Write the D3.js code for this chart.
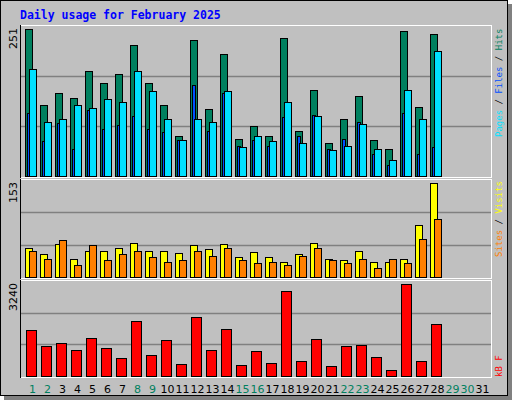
<!DOCTYPE html>
<html><head><meta charset="utf-8">
<script src="https://cdn.jsdelivr.net/npm/d3@7"></script>
<style>body{margin:0;background:#fff}</style>
</head><body>
<script>
// values
var days = d3.range(1, 32);
var weekend = [1, 2, 8, 9, 15, 16, 22, 23, 29, 30];
var hits  = [251,122,141,133,180,158,174,223,158,121,68,233,114,209,64,85,68,235,76,146,56,98,136,61,46,247,117,242];
var files = [107,59,90,46,113,80,87,102,80,75,61,155,76,141,51,61,51,100,68,104,46,63,92,37,18,107,37,49];
var pages = [182,92,98,121,116,131,127,180,145,98,61,98,92,145,49,69,59,127,56,102,44,51,88,46,28,146,98,213];
var visits = [47,37,53,30,42,43,48,55,43,42,39,52,45,53,32,40,32,25,37,55,29,27,43,25,24,29,85,153];
var sites  = [42,29,60,20,52,27,37,42,32,25,27,42,34,48,27,22,24,20,34,48,27,22,29,15,29,22,62,95];
var kb = [1609,1041,1147,899,1325,970,651,1928,757,1254,438,2070,899,1644,402,864,473,2993,544,1289,367,1041,1077,686,225,3240,544,1822];

var W = 512, H = 400;
var svg = d3.select("body").append("svg").attr("width", W).attr("height", H)
  .style("font-family", "DejaVu Sans");

// frame with shadow
svg.append("rect").attr("x", 4).attr("y", 4).attr("width", 508).attr("height", 396).attr("fill", "#808080");
svg.append("rect").attr("x", 0.5).attr("y", 0.5).attr("width", 507).attr("height", 395)
  .attr("fill", "#c0c0c0").attr("stroke", "#000");

svg.append("text").attr("x", 20).attr("y", 19).text("Daily usage for February 2025")
  .attr("fill", "#0000ff").attr("font-family", "DejaVu Sans Mono").attr("font-weight", "bold").attr("font-size", 11.5);

var x = d3.scaleBand().domain(days).range([20, 485]);

function panel(y0, y1, max) {
  svg.append("rect").attr("x", 20.5).attr("y", y0 + 0.5).attr("width", 471).attr("height", y1 - y0)
    .attr("fill", "#c0c0c0").attr("stroke", "#fff");
  svg.append("line").attr("x1", 20.5).attr("x2", 20.5).attr("y1", y0).attr("y2", y1 + 1).attr("stroke", "#000");
  var y = d3.scaleLinear().domain([0, max]).range([y1 - 1, y0 + 4]);
  [1 / 3, 2 / 3].forEach(function (f) {
    var gy = Math.round(y1 - 1 - f * (y1 - 1 - (y0 + 1))) + 0.5;
    svg.append("line").attr("x1", 21).attr("x2", 491).attr("y1", gy).attr("y2", gy)
      .attr("stroke", "#808080").attr("stroke-width", 1.5);
  });
  svg.append("text").attr("transform", "translate(17," + (y0 + 3) + ") rotate(-90)")
    .attr("text-anchor", "end").attr("font-size", 11).text(max);
  return y;
}

function bars(data, y, dx, w, color) {
  svg.append("g").selectAll("rect").data(data).join("rect")
    .attr("x", function (d, i) { return x(i + 1) + dx + 0.5; })
    .attr("y", function (d) { return Math.round(y(d)) + 0.5; })
    .attr("width", w)
    .attr("height", function (d) { return y.range()[0] - Math.round(y(d)); })
    .attr("fill", color).attr("stroke", "#000");
}

var y1 = panel(25, 177, 251);
bars(hits, y1, 5, 7, "#00805f");
bars(files, y1, 7, 3, "#0050ff");
bars(pages, y1, 9, 7, "#00e0ff");

var y2 = panel(179, 278, 153);
bars(visits, y2, 5, 7, "#ffff00");
bars(sites, y2, 9, 7, "#ff8000");

var y3 = panel(280, 377, 3240);
bars(kb, y3, 6, 10, "#ff0000");

// day labels
svg.append("g").selectAll("text").data(days).join("text")
  .attr("x", function (d) { return x(d) + 12.5; })
  .attr("y", 393).attr("text-anchor", "middle").attr("font-size", 11)
  .attr("fill", function (d) { return weekend.indexOf(d) >= 0 ? "#00805f" : "#000"; })
  .text(function (d) { return d; });

// right legends
function legend(yb, parts) {
  var t = svg.append("text").attr("transform", "translate(502," + yb + ") rotate(-90)")
    .attr("font-family", "DejaVu Sans Mono").attr("font-size", 9);
  parts.forEach(function (p) { t.append("tspan").attr("fill", p[1]).text(p[0]); });
}
legend(137, [["Pages", "#00e0ff"], [" / ", "#000"], ["Files", "#0050ff"], [" / ", "#000"], ["Hits", "#00805f"]]);
legend(257, [["Sites", "#ff8000"], [" / ", "#000"], ["Visits", "#ffff00"]]);
legend(377, [["kB F", "#ff0000"]]);
</script>
</body></html>
